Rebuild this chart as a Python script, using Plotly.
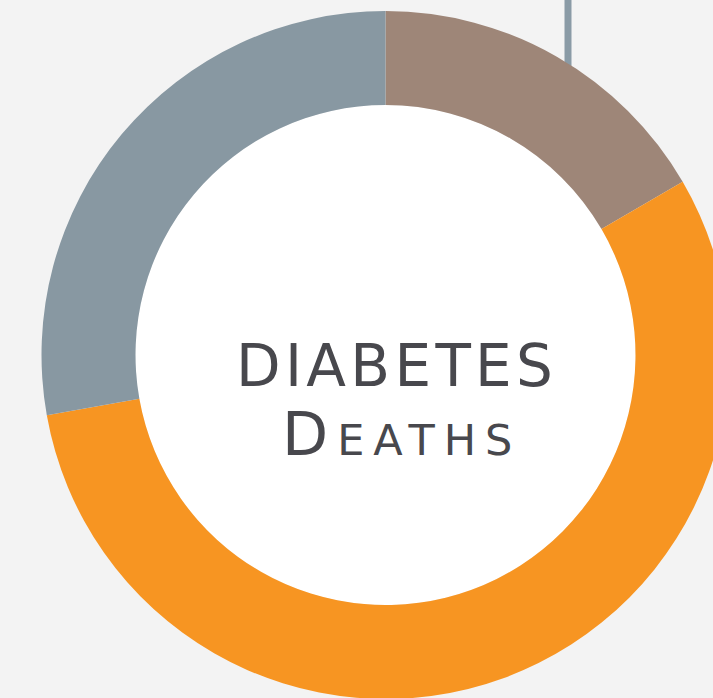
import plotly.graph_objects as go

# ---- data ----
categories = ["Segment A", "Segment B", "Segment C"]
values = [16.6, 55.6, 27.8]
colors = ["#9e8678", "#f79522", "#8898a2"]
title_line1 = "DIABETES"
title_line2_first = "D"
title_line2_rest = "eaths"

# ---- geometry / style ----
W, H = 772, 710
cx, cy = 385.5, 355.0      # donut centre in px (from top-left)
R = 344.0                  # outer radius px
HOLE = 250.0 / 344.0
BG = "#f3f3f3"
TEXT_COLOR = "#48484d"
FONT = "'DejaVu Sans', sans-serif"

dom_x = [(cx - R) / W, (cx + R) / W]
dom_y = [((H - cy) - R) / H, ((H - cy) + R) / H]

fig = go.Figure(
    go.Pie(
        labels=categories,
        values=values,
        marker=dict(colors=colors, line=dict(width=0)),
        hole=HOLE,
        sort=False,
        direction="clockwise",
        rotation=0,
        textinfo="none",
        hoverinfo="label+percent",
        showlegend=False,
        domain=dict(x=dom_x, y=dom_y),
    )
)

r_in = R * HOLE
shapes = [
    dict(type="circle", xref="paper", yref="paper", layer="below",
         x0=(cx - r_in) / W, x1=(cx + r_in) / W,
         y0=(H - cy - r_in) / H, y1=(H - cy + r_in) / H,
         fillcolor="#ffffff", line=dict(width=0)),
    dict(type="line", xref="paper", yref="paper", layer="below",
         x0=568 / W, x1=568 / W, y0=1.0, y1=(H - 90) / H,
         line=dict(color="#8a9ba6", width=7)),
]

annotations = [
    dict(text='<span style="letter-spacing:4.3px">%s</span>' % title_line1,
         xref="paper", yref="paper", x=396 / W, y=(H - 366) / H,
         xanchor="center", yanchor="middle", showarrow=False,
         font=dict(family=FONT, size=58, color=TEXT_COLOR)),
    dict(text='<span style="letter-spacing:9px">%s<span style="font-size:43px">%s</span></span>'
              % (title_line2_first, title_line2_rest),
         xref="paper", yref="paper", x=401.5 / W, y=(H - 434) / H,
         xanchor="center", yanchor="middle", showarrow=False,
         font=dict(family=FONT, size=60, color=TEXT_COLOR, textcase="upper")),
]

fig.update_layout(
    width=W, height=H, autosize=False,
    margin=dict(l=0, r=0, t=0, b=0, pad=0),
    paper_bgcolor=BG, plot_bgcolor=BG,
    shapes=shapes, annotations=annotations,
)

fig.write_html(
    "out.html",
    config={"displayModeBar": False},
    post_script="document.documentElement.style.overflow='hidden';"
                "document.body.style.overflow='hidden';document.body.style.margin='0';",
)
